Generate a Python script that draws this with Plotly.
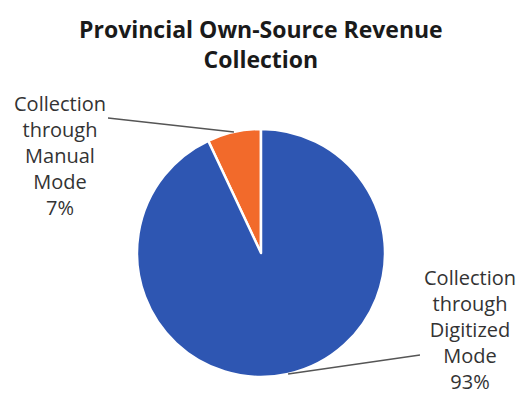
import math
import plotly.graph_objects as go

# ---- data ----
categories = ["Collection through Manual Mode", "Collection through Digitized Mode"]
values = [7, 93]
label_texts = ["Collection<br>through<br>Manual<br>Mode<br>7%",
               "Collection<br>through<br>Digitized<br>Mode<br>93%"]
colors = ["#F26A2B", "#2E56B2"]
title_text = "<b>Provincial Own-Source Revenue<br>Collection</b>"

# ---- layout geometry (pixels) ----
W, H = 521, 398
cx, cy, r = 261, 253, 124          # pie centre / radius in pixels (from top-left)
label_pos = [(60, 155), (470, 329)]  # label centres (pixels)
line_outer = [(108, 118), (420, 355)]  # leader-line outer ends (pixels)

def px(x):
    return x / W

def py(y):
    return 1 - y / H

total = sum(values)
# first slice (Manual) sits just left of 12 o'clock, others continue counterclockwise
rotation = -values[0] / total * 360.0

fig = go.Figure(go.Pie(
    labels=categories,
    values=values,
    sort=False,
    direction="counterclockwise",
    rotation=rotation,
    marker=dict(colors=colors, line=dict(color="white", width=2.5)),
    textinfo="none",
    hoverinfo="label+percent",
    showlegend=False,
    domain=dict(x=[px(cx - r), px(cx + r)], y=[py(cy + r), py(cy - r)]),
))

# leader lines from slice-mid on the rim to labels, computed from values
shapes = []
annotations = []
# angles measured clockwise from 12 o'clock (plotly convention)
start = rotation + values[0] / total * 360.0
cum = start
for i, v in enumerate(values):
    span = v / total * 360.0
    mid = math.radians(cum - span / 2)
    cum -= span
    ex = cx + r * math.sin(mid)
    ey = cy - r * math.cos(mid)
    ox, oy = line_outer[i]
    shapes.append(dict(type="line", xref="paper", yref="paper",
                       x0=px(ex), y0=py(ey), x1=px(ox), y1=py(oy),
                       line=dict(color="#555555", width=1.3)))
    lx, ly = label_pos[i]
    annotations.append(dict(text=label_texts[i], x=px(lx), y=py(ly),
                            xref="paper", yref="paper", showarrow=False,
                            xanchor="center", yanchor="middle", align="center",
                            font=dict(family="Open Sans", size=20, color="#333333")))

annotations.append(dict(text=title_text, x=px(261), y=py(44), xref="paper", yref="paper",
                        showarrow=False, xanchor="center", yanchor="middle", align="center",
                        font=dict(family="Open Sans", size=23, color="#1a1a1a")))

fig.update_layout(
    width=W, height=H,
    margin=dict(l=0, r=0, t=0, b=0),
    paper_bgcolor="white",
    plot_bgcolor="white",
    shapes=shapes,
    annotations=annotations,
)

fig.write_html("out.html")
